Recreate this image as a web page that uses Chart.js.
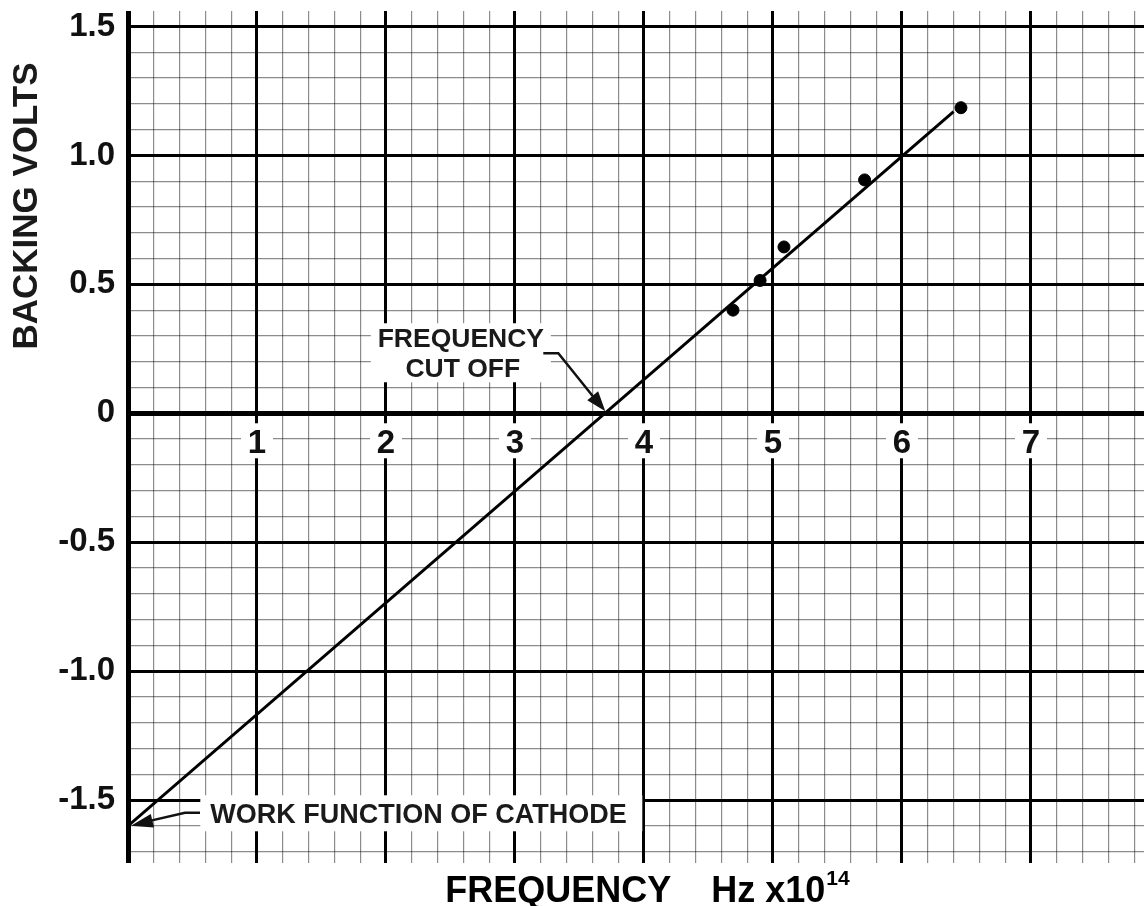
<!DOCTYPE html>
<html>
<head>
<meta charset="utf-8">
<script src="https://cdn.jsdelivr.net/npm/chart.js@4"></script>
<style>
  html, body { margin: 0; padding: 0; background: #fff; overflow: hidden; }
  #wrap { width: 1144px; height: 906px; position: relative; }
</style>
</head>
<body>
<div id="wrap"><canvas id="myChart"></canvas></div>
<script>
// measured points (frequency in 10^14 Hz, backing volts)
const freqPoints = [4.69, 4.90, 5.085, 5.71, 6.457];
const voltPoints = [0.40, 0.515, 0.645, 0.905, 1.185];

// best fit line end points
const fitFreq = [0, 6.40];
const fitVolt = [-1.6, 1.17];

const xTickValues = [1, 2, 3, 4, 5, 6, 7];
const xTickLabels = ['1', '2', '3', '4', '5', '6', '7'];
const yTickValues = [1.5, 1.0, 0.5, 0, -0.5, -1.0, -1.5];
const yTickLabels = ['1.5', '1.0', '0.5', '0', '-0.5', '-1.0', '-1.5'];

const FONT = '"Liberation Sans", Arial, Helvetica, sans-serif';

// graph paper: minor lines every 0.2 (x) and 0.1 (y)
function paperTicks(from, to, step) {
    const out = [];
    for (let i = Math.round(from / step); i <= Math.round(to / step); i++) {
        out.push({ value: +(i * step).toFixed(3) });
    }
    return out;
}

function arrowHead(ctx, fromX, fromY, tipX, tipY, len, half) {
    const a = Math.atan2(tipY - fromY, tipX - fromX);
    ctx.beginPath();
    ctx.moveTo(tipX, tipY);
    ctx.lineTo(tipX - len * Math.cos(a) + half * Math.sin(a), tipY - len * Math.sin(a) - half * Math.cos(a));
    ctx.lineTo(tipX - len * Math.cos(a) - half * Math.sin(a), tipY - len * Math.sin(a) + half * Math.cos(a));
    ctx.closePath();
    ctx.fill();
}

const paperPlugin = {
    id: 'paper',
    beforeDatasetsDraw(chart) {
        const ctx = chart.ctx;
        const x = chart.scales.x, y = chart.scales.y;
        const y0 = y.getPixelForValue(0);
        ctx.save();
        // x tick labels sit inside the plot, under the zero line
        ctx.font = 'bold 33px ' + FONT;
        ctx.textAlign = 'center';
        ctx.textBaseline = 'alphabetic';
        xTickValues.forEach((v, i) => {
            const px = x.getPixelForValue(v);
            ctx.fillStyle = '#fff';
            ctx.fillRect(px - 16, y0 + 10, 32, 35);
            ctx.fillStyle = '#111';
            ctx.fillText(xTickLabels[i], px, y0 + 40);
        });

        // FREQUENCY CUT OFF
        const cx = x.getPixelForValue(2.58), cy = y.getPixelForValue(0.256);
        ctx.fillStyle = '#fff';
        ctx.fillRect(cx - 90, cy - 24, 180, 59);
        ctx.fillStyle = '#1a1a1a';
        ctx.font = 'bold 26.5px ' + FONT;
        ctx.fillText('FREQUENCY', cx, cy);
        ctx.fillText('CUT OFF', cx + 2, cy + 30);

        // WORK FUNCTION OF CATHODE
        const wx = x.getPixelForValue(0.638), wy = y.getPixelForValue(-1.59);
        ctx.fillStyle = '#fff';
        ctx.fillRect(wx - 10, wy - 28, 442, 36);
        ctx.fillStyle = '#1a1a1a';
        ctx.font = 'bold 27px ' + FONT;
        ctx.textAlign = 'left';
        ctx.fillText('WORK FUNCTION OF CATHODE', wx, wy);
        ctx.restore();
    },
    afterDatasetsDraw(chart) {
        const ctx = chart.ctx;
        const x = chart.scales.x, y = chart.scales.y;
        ctx.save();
        ctx.strokeStyle = '#111';
        ctx.fillStyle = '#111';
        ctx.lineWidth = 2.5;

        // cut off arrow
        const tx = x.getPixelForValue(3.70), ty = y.getPixelForValue(0) - 2;
        ctx.beginPath();
        ctx.moveTo(tx - 62, ty - 58);
        ctx.lineTo(tx - 47, ty - 58);
        ctx.lineTo(tx - 6, ty - 7);
        ctx.stroke();
        arrowHead(ctx, tx - 47, ty - 58, tx, ty, 20, 7);

        // work function arrow
        const ax = x.getPixelForValue(0) + 3, ay = y.getPixelForValue(-1.6);
        ctx.beginPath();
        ctx.moveTo(ax + 69, ay - 13);
        ctx.lineTo(ax + 54, ay - 13);
        ctx.lineTo(ax + 10, ay - 3);
        ctx.stroke();
        arrowHead(ctx, ax + 54, ay - 13, ax, ay, 22, 7);

        // axis titles
        ctx.textAlign = 'left';
        ctx.textBaseline = 'alphabetic';
        ctx.fillStyle = '#000';
        const a = chart.chartArea;
        const main1 = 'FREQUENCY', main2 = 'Hz x10', sup = '14';
        ctx.font = 'bold 36px ' + FONT;
        const w1 = ctx.measureText(main1).width;
        const w2 = ctx.measureText(main2).width;
        ctx.font = 'bold 21px ' + FONT;
        const w3 = ctx.measureText(sup).width;
        const gap = 40;
        let sx = (a.left + a.right) / 2 + 11 - (w1 + gap + w2 + w3) / 2;
        ctx.font = 'bold 36px ' + FONT;
        ctx.fillText(main1, sx, 902);
        ctx.fillText(main2, sx + w1 + gap, 902);
        ctx.font = 'bold 21px ' + FONT;
        ctx.fillText(sup, sx + w1 + gap + w2 + 1, 885);

        ctx.translate(37, 206);
        ctx.rotate(-Math.PI / 2);
        ctx.textAlign = 'center';
        ctx.font = 'bold 35px ' + FONT;
        ctx.fillStyle = '#1a1a1a';
        ctx.fillText('BACKING VOLTS', 0, 0);
        ctx.restore();
    }
};

function isMajor(v, unit) {
    return Math.abs(v / unit - Math.round(v / unit)) < 1e-6;
}

function noPad(s) {
    s.paddingTop = 0;
    s.paddingBottom = 0;
    s.paddingLeft = 0;
    s.paddingRight = 0;
}

const ctx = document.getElementById('myChart').getContext('2d');
new Chart(ctx, {
    type: 'scatter',
    data: {
        datasets: [{
            label: 'fit',
            data: fitFreq.map((f, i) => ({ x: f, y: fitVolt[i] })),
            showLine: true,
            borderColor: '#000',
            borderWidth: 3,
            pointRadius: 0
        }, {
            label: 'measured',
            data: freqPoints.map((f, i) => ({ x: f, y: voltPoints[i] })),
            backgroundColor: '#000',
            borderColor: '#000',
            pointRadius: 6,
            pointHoverRadius: 6
        }]
    },
    options: {
        responsive: true,
        maintainAspectRatio: false,
        animation: false,
        layout: { autoPadding: false, padding: { top: 11, right: 0, left: 0, bottom: 0 } },
        plugins: {
            legend: { display: false },
            tooltip: { enabled: false }
        },
        scales: {
            x: {
                type: 'linear',
                min: 0,
                max: 7.876,
                afterBuildTicks: s => { s.ticks = paperTicks(0, 7.8, 0.2); },
                afterFit: s => { s.height = 43; noPad(s); },
                border: { display: false },
                ticks: { display: false, autoSkip: false },
                grid: {
                    drawTicks: false,
                    color: c => c.tick.value === 0 || isMajor(c.tick.value, 1) ? '#000' : 'rgba(0,0,0,0.45)',
                    lineWidth: c => c.tick.value === 0 ? 5 : (isMajor(c.tick.value, 1) ? 3 : 1.2)
                }
            },
            y: {
                type: 'linear',
                min: -1.744,
                max: 1.56,
                afterBuildTicks: s => { s.ticks = paperTicks(-1.7, 1.5, 0.1); },
                afterFit: s => { s.width = 128; noPad(s); },
                border: { display: false },
                ticks: {
                    autoSkip: false,
                    padding: 13,
                    color: '#111',
                    font: { family: FONT, size: 33, weight: 'bold' },
                    callback: v => {
                        const i = yTickValues.findIndex(t => Math.abs(t - v) < 1e-6);
                        return i >= 0 ? yTickLabels[i] : '';
                    }
                },
                grid: {
                    drawTicks: false,
                    color: c => isMajor(c.tick.value, 0.5) ? '#000' : 'rgba(0,0,0,0.45)',
                    lineWidth: c => Math.abs(c.tick.value) < 1e-6 ? 5 : (isMajor(c.tick.value, 0.5) ? 3 : 1.2)
                }
            }
        }
    },
    plugins: [paperPlugin]
});
</script>
</body>
</html>
